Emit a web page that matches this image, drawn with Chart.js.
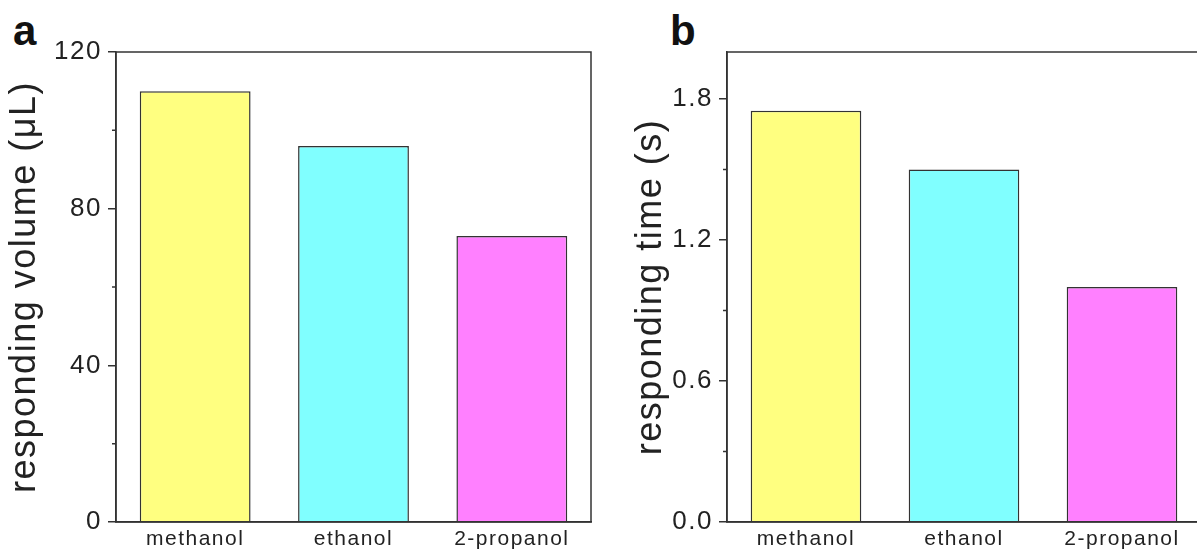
<!DOCTYPE html>
<html>
<head>
<meta charset="utf-8">
<script src="https://cdn.jsdelivr.net/npm/chart.js@4.4.1/dist/chart.umd.min.js"></script>
<style>
  html, body { margin: 0; padding: 0; background: #fff; overflow: hidden; width: 1197px; height: 553px; }
  #panelA { position: absolute; left: 0; top: 0; }
  #panelB { position: absolute; left: 626px; top: 0; }
  .tag { position: absolute; font-family: "Liberation Sans", Arial, sans-serif; font-weight: bold; font-size: 42px; line-height: 42px; color: #111; }
</style>
</head>
<body>
<div class="tag" style="left:13px; top:10px;">a</div>
<div class="tag" style="left:670px; top:10px;">b</div>
<canvas id="panelA" width="600" height="553"></canvas>
<canvas id="panelB" width="580" height="553"></canvas>
<script>
// solventes
const categorias = ['methanol', 'ethanol', '2-propanol'];
const volume = [110, 96, 73];          // responding volume (µL)
const tempo = [1.75, 1.5, 1.0];        // responding time (s)
const cores = ['#FFFF80', '#80FFFF', '#FF80FF'];

const ticksVolume = [0, 40, 80, 120];
const minorVolume = [20, 60, 100];
const ticksTempo = [0, 0.6, 1.2, 1.8];
const minorTempo = [0.3, 0.9, 1.5];

const fonte = '"Liberation Sans", Arial, sans-serif';

// moldura + ticks menores
const moldura = {
  id: 'moldura',
  beforeDraw(chart) {
    chart.ctx.letterSpacing = '1.5px';
  },
  afterDraw(chart) {
    const ctx = chart.ctx;
    const a = chart.chartArea;
    ctx.save();
    ctx.strokeStyle = '#333';
    ctx.lineWidth = 1.5;
    ctx.strokeRect(a.left, a.top, a.right - a.left, a.bottom - a.top);
    const menores = chart.options.plugins.moldura.minor;
    ctx.beginPath();
    for (let i = 0; i < menores.length; i++) {
      const y = chart.scales.y.getPixelForValue(menores[i]);
      ctx.moveTo(a.left - 4, y);
      ctx.lineTo(a.left, y);
    }
    ctx.stroke();
    ctx.restore();
  }
};

function criarGrafico(el, valores, titulo, maximo, majors, minors, larguraY, padDireita, tituloPad, casas) {
  return new Chart(document.getElementById(el), {
    type: 'bar',
    data: {
      labels: categorias,
      datasets: [{
        data: valores,
        backgroundColor: cores,
        borderColor: '#333',
        borderWidth: 1.5,
        categoryPercentage: 1,
        barPercentage: 0.7
      }]
    },
    options: {
      responsive: false,
      animation: false,
      layout: { padding: { top: 52, right: padDireita, left: 0, bottom: 0 } },
      plugins: {
        legend: { display: false },
        tooltip: { enabled: false },
        moldura: { minor: minors }
      },
      scales: {
        x: {
          grid: { display: false, drawTicks: false },
          border: { color: '#333', width: 1.5 },
          ticks: {
            color: '#222',
            font: { family: fonte, size: 21 },
            padding: 5,
            maxRotation: 0,
            autoSkip: false
          },
          afterFit(scale) { scale.height = 31; }
        },
        y: {
          min: 0,
          max: maximo,
          afterBuildTicks(scale) {
            scale.ticks = majors.map(v => ({ value: v }));
          },
          grid: { drawOnChartArea: false, tickLength: 8, color: '#333', lineWidth: 1.5 },
          border: { color: '#333', width: 1.5 },
          ticks: {
            color: '#222',
            font: { family: fonte, size: 26 },
            padding: 6,
            callback: v => casas ? Number(v).toFixed(casas) : v
          },
          title: {
            display: true,
            text: titulo,
            color: '#222',
            font: { family: fonte, size: 36 },
            padding: { top: tituloPad, bottom: 0 }
          },
          afterFit(scale) { scale.width = larguraY; }
        }
      }
    },
    plugins: [moldura]
  });
}

criarGrafico('panelA', volume, 'responding volume (\u03bcL)', 120, ticksVolume, minorVolume, 116, 9, 3, 0);
criarGrafico('panelB', tempo, 'responding time (s)', 2.0, ticksTempo, minorTempo, 101, 5, 3, 1);
</script>
</body>
</html>
